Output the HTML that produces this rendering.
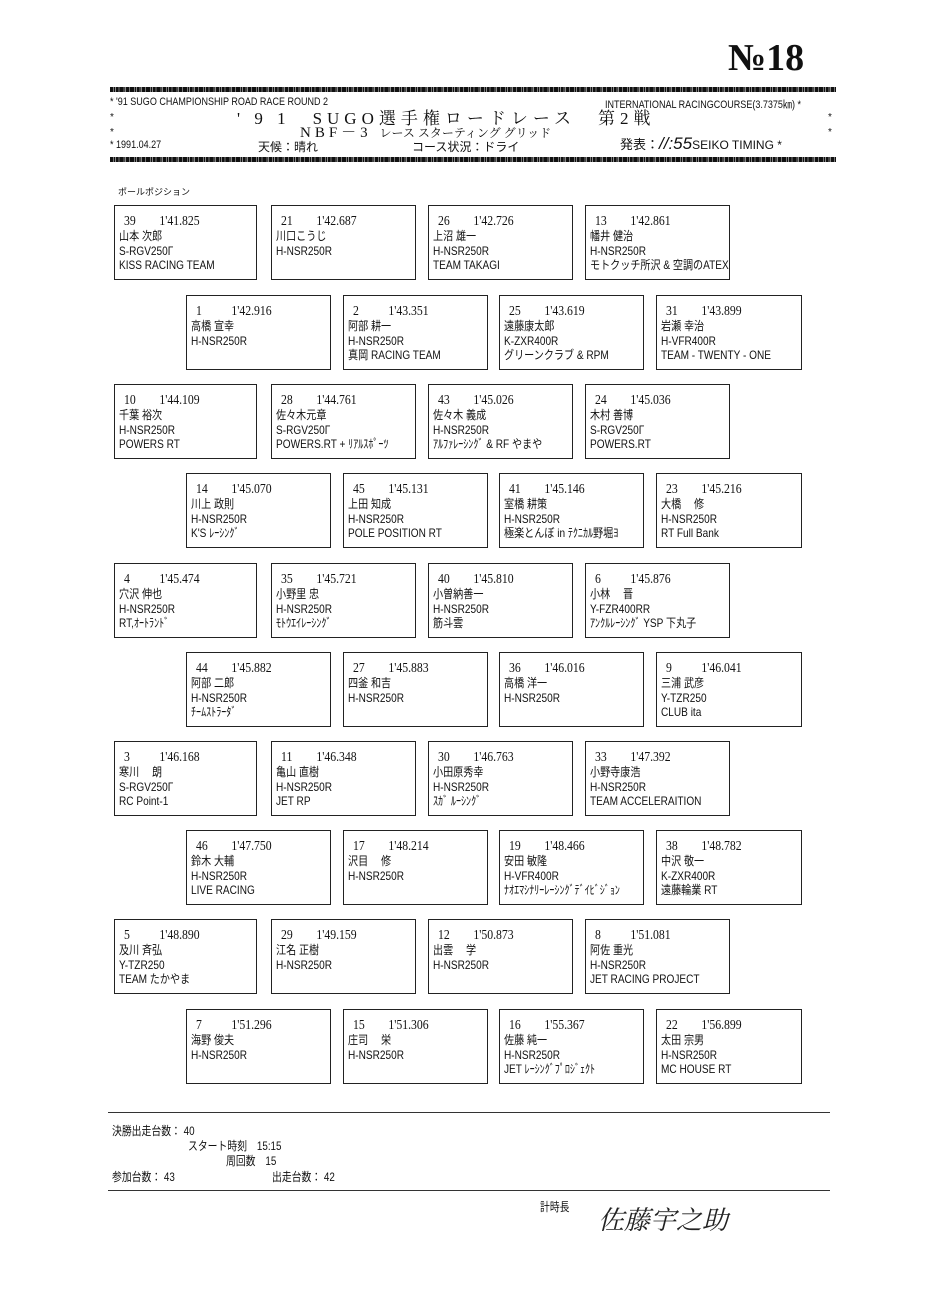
<!DOCTYPE html>
<html><head><meta charset="utf-8"><style>
body{margin:0;background:#fff;width:950px;height:1304px;position:relative;overflow:hidden;font-family:"Liberation Sans","Noto Sans CJK JP",sans-serif;color:#111}
.a{position:absolute;white-space:nowrap}
.n{display:inline-block;transform:scaleX(.82);transform-origin:left}
.b{position:absolute;border:1.5px solid #222;box-sizing:border-box;height:75px;font-size:12px;line-height:14.5px;padding:8px 0 0 4px;white-space:nowrap;overflow:hidden}
.b .t{transform:scaleX(.84);transform-origin:left top}
.b .h{padding-left:6px;font-family:"Liberation Serif","Noto Serif CJK SC",serif;font-size:14px;line-height:15px}
.b .h span{display:inline-block;width:42px}
.c1{left:114px;width:143px}.c2{left:271px;width:145px}.c3{left:428px;width:145px}.c4{left:585px;width:145px}
.d1{left:186px;width:145px}.d2{left:343px;width:145px}.d3{left:499px;width:145px}.d4{left:656px;width:146px}
.stars{position:absolute;left:110px;width:726px;height:5px;background:repeating-linear-gradient(90deg,#111 0 3px,#777 3px 4px,#111 4px 5px,#fff 5px 5.3px)}
.hr{position:absolute;left:108px;width:722px;border-top:1.5px solid #333}
</style></head><body>
<div class="a" style="left:728px;top:36px;font-size:38px;font-family:'Liberation Serif',serif;font-weight:bold">№18</div>
<div class="stars" style="top:87px"></div>
<div class="a" style="left:110px;top:96px;font-size:11px"><span class="n">* '91 SUGO CHAMPIONSHIP ROAD RACE ROUND 2</span></div>
<div class="a" style="left:605px;top:96px;font-size:11px"><span class="n">INTERNATIONAL RACINGCOURSE(3.7375㎞) *</span></div>
<div class="a" style="left:110px;top:112px;font-size:10px">*</div><div class="a" style="left:828px;top:112px;font-size:10px">*</div>
<div class="a" style="left:110px;top:127px;font-size:10px">*</div><div class="a" style="left:828px;top:127px;font-size:10px">*</div>
<div class="a" style="left:237px;top:104px;font-size:17px;letter-spacing:5px;font-family:'Liberation Serif','Noto Serif CJK SC',serif">' 9 1　SUGO選手権ロードレース　第2戦</div>
<div class="a" style="left:300px;top:121px;font-size:15px;letter-spacing:4px;font-family:'Liberation Serif','Noto Serif CJK SC',serif">NBF－3 <span style="font-size:12px;letter-spacing:0">レース スターティング グリッド</span></div>
<div class="a" style="left:110px;top:139px;font-size:11px"><span class="n">* 1991.04.27</span></div>
<div class="a" style="left:258px;top:138px;font-size:12px">天候：晴れ</div>
<div class="a" style="left:412px;top:138px;font-size:12px">コース状況：ドライ</div>
<div class="a" style="left:620px;top:134px;font-size:13px">発表：<i style="font-size:17px">//:55</i><span style="font-size:12px">SEIKO TIMING *</span></div>
<div class="stars" style="top:157px"></div>
<div class="a" style="left:118px;top:185px;font-size:9px">ポールポジション</div>

<div class="b c1" style="top:205px"><div class="t"><div class="h"><span>39</span>1'41.825</div>山本 次郎<br>S-RGV250Γ<br>KISS RACING TEAM</div></div>
<div class="b c2" style="top:205px"><div class="t"><div class="h"><span>21</span>1'42.687</div>川口こうじ<br>H-NSR250R</div></div>
<div class="b c3" style="top:205px"><div class="t"><div class="h"><span>26</span>1'42.726</div>上沼 雄一<br>H-NSR250R<br>TEAM TAKAGI</div></div>
<div class="b c4" style="top:205px"><div class="t"><div class="h"><span>13</span>1'42.861</div>幡井 健治<br>H-NSR250R<br>モトクッチ所沢 &amp; 空調のATEX</div></div>

<div class="b d1" style="top:295px"><div class="t"><div class="h"><span>1</span>1'42.916</div>高橋 宣幸<br>H-NSR250R</div></div>
<div class="b d2" style="top:295px"><div class="t"><div class="h"><span>2</span>1'43.351</div>阿部 耕一<br>H-NSR250R<br>真岡 RACING TEAM</div></div>
<div class="b d3" style="top:295px"><div class="t"><div class="h"><span>25</span>1'43.619</div>遠藤康太郎<br>K-ZXR400R<br>グリーンクラブ &amp; RPM</div></div>
<div class="b d4" style="top:295px"><div class="t"><div class="h"><span>31</span>1'43.899</div>岩瀬 幸治<br>H-VFR400R<br>TEAM - TWENTY - ONE</div></div>

<div class="b c1" style="top:384px"><div class="t"><div class="h"><span>10</span>1'44.109</div>千葉 裕次<br>H-NSR250R<br>POWERS RT</div></div>
<div class="b c2" style="top:384px"><div class="t"><div class="h"><span>28</span>1'44.761</div>佐々木元章<br>S-RGV250Γ<br>POWERS.RT + ﾘｱﾙｽﾎﾟｰﾂ</div></div>
<div class="b c3" style="top:384px"><div class="t"><div class="h"><span>43</span>1'45.026</div>佐々木 義成<br>H-NSR250R<br>ｱﾙﾌｧﾚｰｼﾝｸﾞ &amp; RF やまや</div></div>
<div class="b c4" style="top:384px"><div class="t"><div class="h"><span>24</span>1'45.036</div>木村 善博<br>S-RGV250Γ<br>POWERS.RT</div></div>

<div class="b d1" style="top:473px"><div class="t"><div class="h"><span>14</span>1'45.070</div>川上 政則<br>H-NSR250R<br>K'S ﾚｰｼﾝｸﾞ</div></div>
<div class="b d2" style="top:473px"><div class="t"><div class="h"><span>45</span>1'45.131</div>上田 知成<br>H-NSR250R<br>POLE POSITION RT</div></div>
<div class="b d3" style="top:473px"><div class="t"><div class="h"><span>41</span>1'45.146</div>室橋 耕策<br>H-NSR250R<br>極楽とんぼ in ﾃｸﾆｶﾙ野堀ﾖ</div></div>
<div class="b d4" style="top:473px"><div class="t"><div class="h"><span>23</span>1'45.216</div>大橋　 修<br>H-NSR250R<br>RT Full Bank</div></div>

<div class="b c1" style="top:563px"><div class="t"><div class="h"><span>4</span>1'45.474</div>穴沢 伸也<br>H-NSR250R<br>RT,ｵｰﾄﾗﾝﾄﾞ</div></div>
<div class="b c2" style="top:563px"><div class="t"><div class="h"><span>35</span>1'45.721</div>小野里 忠<br>H-NSR250R<br>ﾓﾄｳｴｲﾚｰｼﾝｸﾞ</div></div>
<div class="b c3" style="top:563px"><div class="t"><div class="h"><span>40</span>1'45.810</div>小曽納善一<br>H-NSR250R<br>筋斗雲</div></div>
<div class="b c4" style="top:563px"><div class="t"><div class="h"><span>6</span>1'45.876</div>小林　 晋<br>Y-FZR400RR<br>ｱﾝｸﾙﾚｰｼﾝｸﾞ YSP 下丸子</div></div>

<div class="b d1" style="top:652px"><div class="t"><div class="h"><span>44</span>1'45.882</div>阿部 二郎<br>H-NSR250R<br>ﾁｰﾑｽﾄﾗｰﾀﾞ</div></div>
<div class="b d2" style="top:652px"><div class="t"><div class="h"><span>27</span>1'45.883</div>四釜 和吉<br>H-NSR250R</div></div>
<div class="b d3" style="top:652px"><div class="t"><div class="h"><span>36</span>1'46.016</div>高橋 洋一<br>H-NSR250R</div></div>
<div class="b d4" style="top:652px"><div class="t"><div class="h"><span>9</span>1'46.041</div>三浦 武彦<br>Y-TZR250<br>CLUB ita</div></div>

<div class="b c1" style="top:741px"><div class="t"><div class="h"><span>3</span>1'46.168</div>寒川　 朗<br>S-RGV250Γ<br>RC Point-1</div></div>
<div class="b c2" style="top:741px"><div class="t"><div class="h"><span>11</span>1'46.348</div>亀山 直樹<br>H-NSR250R<br>JET RP</div></div>
<div class="b c3" style="top:741px"><div class="t"><div class="h"><span>30</span>1'46.763</div>小田原秀幸<br>H-NSR250R<br>ｽｶﾞ ﾙｰｼﾝｸﾞ</div></div>
<div class="b c4" style="top:741px"><div class="t"><div class="h"><span>33</span>1'47.392</div>小野寺康浩<br>H-NSR250R<br>TEAM ACCELERAITION</div></div>

<div class="b d1" style="top:830px"><div class="t"><div class="h"><span>46</span>1'47.750</div>鈴木 大輔<br>H-NSR250R<br>LIVE RACING</div></div>
<div class="b d2" style="top:830px"><div class="t"><div class="h"><span>17</span>1'48.214</div>沢目　 修<br>H-NSR250R</div></div>
<div class="b d3" style="top:830px"><div class="t"><div class="h"><span>19</span>1'48.466</div>安田 敏隆<br>H-VFR400R<br>ﾅｵｴﾏｼﾅﾘｰﾚｰｼﾝｸﾞﾃﾞｲﾋﾞｼﾞｮﾝ</div></div>
<div class="b d4" style="top:830px"><div class="t"><div class="h"><span>38</span>1'48.782</div>中沢 敬一<br>K-ZXR400R<br>遠藤輪業 RT</div></div>

<div class="b c1" style="top:919px"><div class="t"><div class="h"><span>5</span>1'48.890</div>及川 斉弘<br>Y-TZR250<br>TEAM たかやま</div></div>
<div class="b c2" style="top:919px"><div class="t"><div class="h"><span>29</span>1'49.159</div>江名 正樹<br>H-NSR250R</div></div>
<div class="b c3" style="top:919px"><div class="t"><div class="h"><span>12</span>1'50.873</div>出雲　 学<br>H-NSR250R</div></div>
<div class="b c4" style="top:919px"><div class="t"><div class="h"><span>8</span>1'51.081</div>阿佐 重光<br>H-NSR250R<br>JET RACING PROJECT</div></div>

<div class="b d1" style="top:1009px"><div class="t"><div class="h"><span>7</span>1'51.296</div>海野 俊夫<br>H-NSR250R</div></div>
<div class="b d2" style="top:1009px"><div class="t"><div class="h"><span>15</span>1'51.306</div>庄司　 栄<br>H-NSR250R</div></div>
<div class="b d3" style="top:1009px"><div class="t"><div class="h"><span>16</span>1'55.367</div>佐藤 純一<br>H-NSR250R<br>JET ﾚｰｼﾝｸﾞﾌﾟﾛｼﾞｪｸﾄ</div></div>
<div class="b d4" style="top:1009px"><div class="t"><div class="h"><span>22</span>1'56.899</div>太田 宗男<br>H-NSR250R<br>MC HOUSE RT</div></div>

<div class="hr" style="top:1112px"></div>
<div class="a" style="left:112px;top:1122px;font-size:12px"><span class="n">決勝出走台数： 40</span></div>
<div class="a" style="left:188px;top:1137px;font-size:12px"><span class="n">スタート時刻　15:15</span></div>
<div class="a" style="left:226px;top:1152px;font-size:12px"><span class="n">周回数　15</span></div>
<div class="a" style="left:112px;top:1168px;font-size:12px"><span class="n">参加台数： 43</span></div>
<div class="a" style="left:272px;top:1168px;font-size:12px"><span class="n">出走台数： 42</span></div>
<div class="hr" style="top:1190px"></div>
<div class="a" style="left:540px;top:1198px;font-size:12px"><span class="n">計時長</span></div>
<div class="a" style="left:598px;top:1200px;font-size:26px;font-style:italic;font-family:'Noto Serif CJK SC',serif;color:#222">佐藤宇之助</div>
</body></html>
